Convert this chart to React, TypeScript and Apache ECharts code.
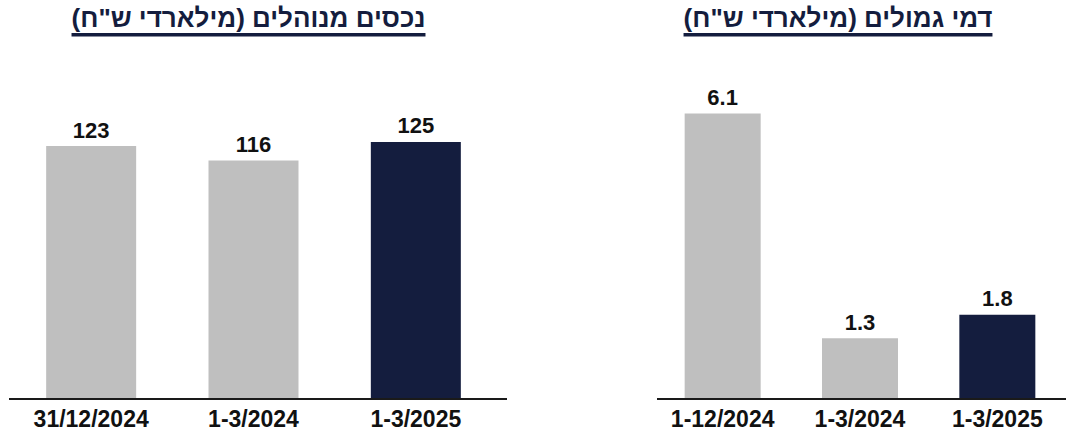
import React, { useEffect, useRef } from "react";
import * as echarts from "echarts";

const leftTitle = "נכסים מנוהלים (מילארדי ש\"ח)";
const rightTitle = "דמי גמולים (מילארדי ש\"ח)";
const leftCategories = ["31/12/2024", "1-3/2024", "1-3/2025"];
const leftValues = [123, 116, 125];
const rightCategories = ["1-12/2024", "1-3/2024", "1-3/2025"];
const rightValues = [6.1, 1.3, 1.8];

const GRAY = "#bfbfbf";
const NAVY = "#141d3e";
const FONT = "'Liberation Sans', Arial, sans-serif";

function measure(text: string, font: string): number {
  const c = document.createElement("canvas");
  const ctx = c.getContext("2d");
  if (!ctx) return text.length * 12;
  ctx.font = font;
  return ctx.measureText(text).width;
}

export default function App() {
  const ref = useRef<HTMLDivElement>(null);
  useEffect(() => {
    if (!ref.current) return;
    const chart = echarts.init(ref.current, undefined, { renderer: "svg" });
    const titleFont = `bold 26px ${FONT}`;
    const lw = measure(leftTitle, titleFont);
    const rw = measure(rightTitle, titleFont);
    const lcx = 248.5;
    const rcx = 838;
    const colors = (vals: number[]) =>
      vals.map((v, i) => ({
        value: v,
        itemStyle: { color: i === vals.length - 1 ? NAVY : GRAY },
      }));
    const labelStyle = {
      show: true,
      position: "top" as const,
      distance: 5,
      color: "#111",
      fontFamily: FONT,
      fontWeight: "bold" as const,
      fontSize: 22,
    };
    const axisLabel = {
      color: "#111",
      fontFamily: FONT,
      fontWeight: "bold" as const,
      fontSize: 23,
      margin: 8,
      interval: 0,
    };
    chart.setOption({
      animation: false,
      grid: [
        { left: 10, width: 487, top: 90.5, height: 308.5 },
        { left: 654, width: 412, top: 71.5, height: 327.5 },
      ],
      xAxis: [
        {
          type: "category",
          gridIndex: 0,
          data: leftCategories,
          axisLine: { show: false },
          axisTick: { show: false },
          axisLabel,
        },
        {
          type: "category",
          gridIndex: 1,
          data: rightCategories,
          axisLine: { show: false },
          axisTick: { show: false },
          axisLabel,
        },
      ],
      yAxis: [
        { type: "value", gridIndex: 0, min: 0, max: 150, show: false, splitLine: { show: false } },
        { type: "value", gridIndex: 1, min: 0, max: 7, show: false, splitLine: { show: false } },
      ],
      series: [
        {
          type: "bar",
          xAxisIndex: 0,
          yAxisIndex: 0,
          barWidth: 90,
          data: colors(leftValues),
          label: { ...labelStyle, formatter: (p: any) => String(p.value) },
        },
        {
          type: "bar",
          xAxisIndex: 1,
          yAxisIndex: 1,
          barWidth: 76,
          data: colors(rightValues),
          label: { ...labelStyle, formatter: (p: any) => Number(p.value).toFixed(1) },
        },
      ],
      graphic: [
        {
          type: "text",
          x: lcx,
          y: 18,
          style: {
            text: leftTitle + "\u200F",
            font: titleFont,
            fill: NAVY,
            align: "center",
            verticalAlign: "middle",
          },
        },
        {
          type: "rect",
          shape: { x: lcx - lw / 2, y: 33, width: lw, height: 3.5 },
          style: { fill: NAVY },
        },
        {
          type: "text",
          x: rcx,
          y: 18,
          style: {
            text: rightTitle + "\u200F",
            font: titleFont,
            fill: NAVY,
            align: "center",
            verticalAlign: "middle",
          },
        },
        {
          type: "rect",
          shape: { x: rcx - rw / 2, y: 33, width: rw, height: 3.5 },
          style: { fill: NAVY },
        },
        {
          type: "line",
          shape: { x1: 9, y1: 399, x2: 507, y2: 399 },
          style: { stroke: "#1a1a1a", lineWidth: 2 },
          z: 10,
        },
        {
          type: "line",
          shape: { x1: 657, y1: 399, x2: 1066, y2: 399 },
          style: { stroke: "#1a1a1a", lineWidth: 2 },
          z: 10,
        },
      ],
    });
    return () => chart.dispose();
  }, []);
  return (
    <div
      ref={ref}
      style={{ position: "fixed", left: 0, top: 0, width: 1066, height: 432, background: "#fff" }}
    />
  );
}
